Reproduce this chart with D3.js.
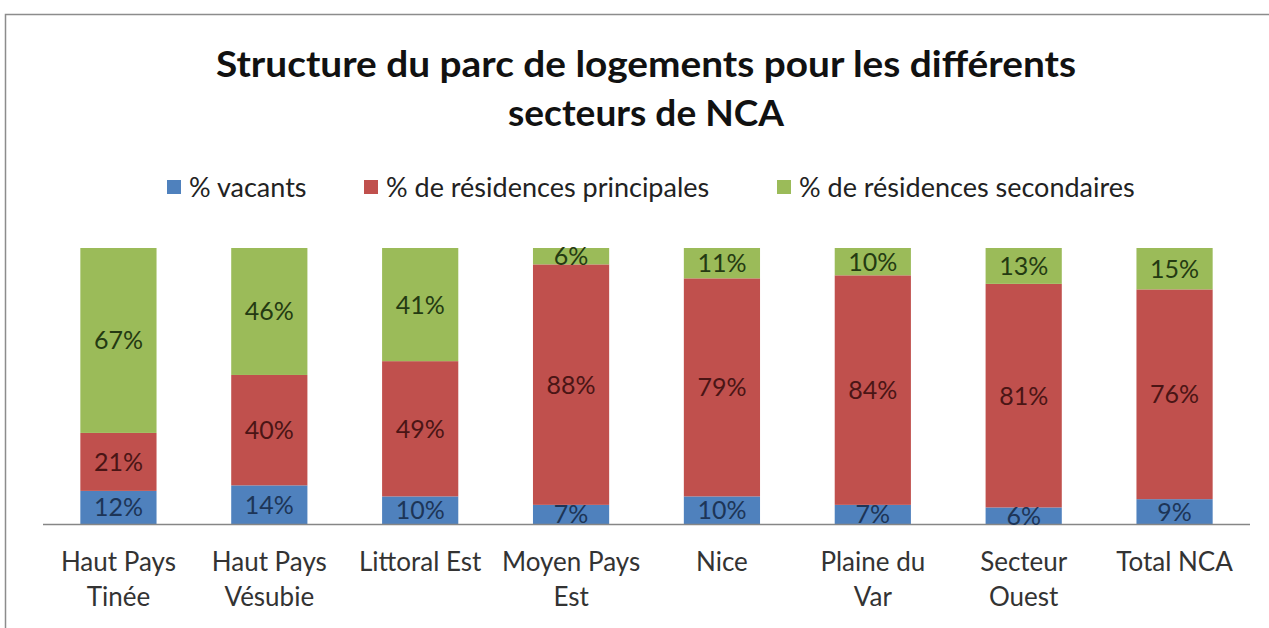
<!DOCTYPE html>
<html>
<head>
<meta charset="utf-8">
<script src="https://cdn.jsdelivr.net/npm/d3@7"></script>
<style>
  body { margin: 0; background: #fff; }
  text { font-family: Lato, "Open Sans", sans-serif; }
</style>
</head>
<body>
<div id="viz"></div>
<script>
"use strict";

var categories = [
  ["Haut Pays", "Tinée"],
  ["Haut Pays", "Vésubie"],
  ["Littoral Est"],
  ["Moyen Pays", "Est"],
  ["Nice"],
  ["Plaine du", "Var"],
  ["Secteur", "Ouest"],
  ["Total NCA"]
];
var vacants = [12, 14, 10, 7, 10, 7, 6, 9];
var principales = [21, 40, 49, 88, 79, 84, 81, 76];
var secondaires = [67, 46, 41, 6, 11, 10, 13, 15];
var seriesNames = ["% vacants", "% de résidences principales", "% de résidences secondaires"];
var titleLines = ["Structure du parc de logements pour les différents", "secteurs de NCA"];

var width = 1269, height = 628;
var fills = ["#4f81bd", "#c0504d", "#9bbb59"];
var labelColors = ["#1d3557", "#4a1515", "#243a12"];

var keys = ["v", "p", "s"];
var rows = categories.map(function(c, i) {
  return { name: c.join(" "), v: vacants[i], p: principales[i], s: secondaires[i] };
});
// 100% stacked, some columns sum to 101 so normalise
var stacked = d3.stack().keys(keys).offset(d3.stackOffsetExpand)(rows);

var x = d3.scaleBand()
  .domain(rows.map(function(d) { return d.name; }))
  .range([43, 1250])
  .paddingInner(0.495)
  .paddingOuter(0.2475);

var y = d3.scaleLinear().domain([0, 1]).range([524, 248]);

var svg = d3.select("#viz").append("svg")
  .attr("width", width)
  .attr("height", height);

// frame
svg.append("path")
  .attr("d", "M5.5," + height + "V14.5H" + width)
  .attr("fill", "none")
  .attr("stroke", "#8c8c8c")
  .attr("stroke-width", 1.5);

// title
var titleWidths = [860, 276];
svg.append("g").selectAll("text")
  .data(titleLines)
  .enter().append("text")
  .attr("x", 646)
  .attr("y", function(d, i) { return 77 + i * 49; })
  .attr("text-anchor", "middle")
  .attr("font-size", "36px")
  .attr("font-weight", "bold")
  .attr("fill", "#111")
  .attr("textLength", function(d, i) { return titleWidths[i]; })
  .attr("lengthAdjust", "spacingAndGlyphs")
  .text(function(d) { return d; });

// legend
var legendX = [167, 364, 777];
var legend = svg.append("g").selectAll("g")
  .data(seriesNames)
  .enter().append("g")
  .attr("transform", function(d, i) { return "translate(" + legendX[i] + ",197)"; });
legend.append("rect")
  .attr("x", 0).attr("y", -17)
  .attr("width", 14).attr("height", 14)
  .attr("fill", function(d, i) { return fills[i]; });
legend.append("text")
  .attr("x", 22)
  .attr("y", 0)
  .attr("font-size", "27px")
  .attr("fill", "#222")
  .text(function(d) { return d; });

// bars
var layers = svg.append("g").selectAll("g")
  .data(stacked)
  .enter().append("g")
  .attr("fill", function(d, i) { return fills[i]; });

layers.selectAll("rect")
  .data(function(d) { return d; })
  .enter().append("rect")
  .attr("x", function(d) { return x(d.data.name); })
  .attr("width", x.bandwidth())
  .attr("y", function(d) { return y(d[1]); })
  .attr("height", function(d) { return y(d[0]) - y(d[1]); });

// axis line
svg.append("line")
  .attr("x1", 43).attr("x2", 1250)
  .attr("y1", 524.5).attr("y2", 524.5)
  .attr("stroke", "#868686")
  .attr("stroke-width", 1.5);

// value labels
stacked.forEach(function(layer, li) {
  svg.append("g").selectAll("text")
    .data(layer)
    .enter().append("text")
    .attr("x", function(d) { return x(d.data.name) + x.bandwidth() / 2; })
    .attr("y", function(d) { return (y(d[0]) + y(d[1])) / 2; })
    .attr("dy", "0.36em")
    .attr("text-anchor", "middle")
    .attr("font-size", "25px")
    .attr("fill", labelColors[li])
    .text(function(d) { return d.data[keys[li]] + "%"; });
});

// category labels
var cats = svg.append("g").selectAll("text")
  .data(rows)
  .enter().append("text")
  .attr("text-anchor", "middle")
  .attr("font-size", "26px")
  .attr("fill", "#333")
  .attr("transform", function(d) { return "translate(" + (x(d.name) + x.bandwidth() / 2) + ",0)"; });

cats.selectAll("tspan")
  .data(function(d, i) { return categories[i]; })
  .enter().append("tspan")
  .attr("x", 0)
  .attr("y", function(d, i) { return 571 + i * 35; })
  .text(function(d) { return d; });
</script>
</body>
</html>
